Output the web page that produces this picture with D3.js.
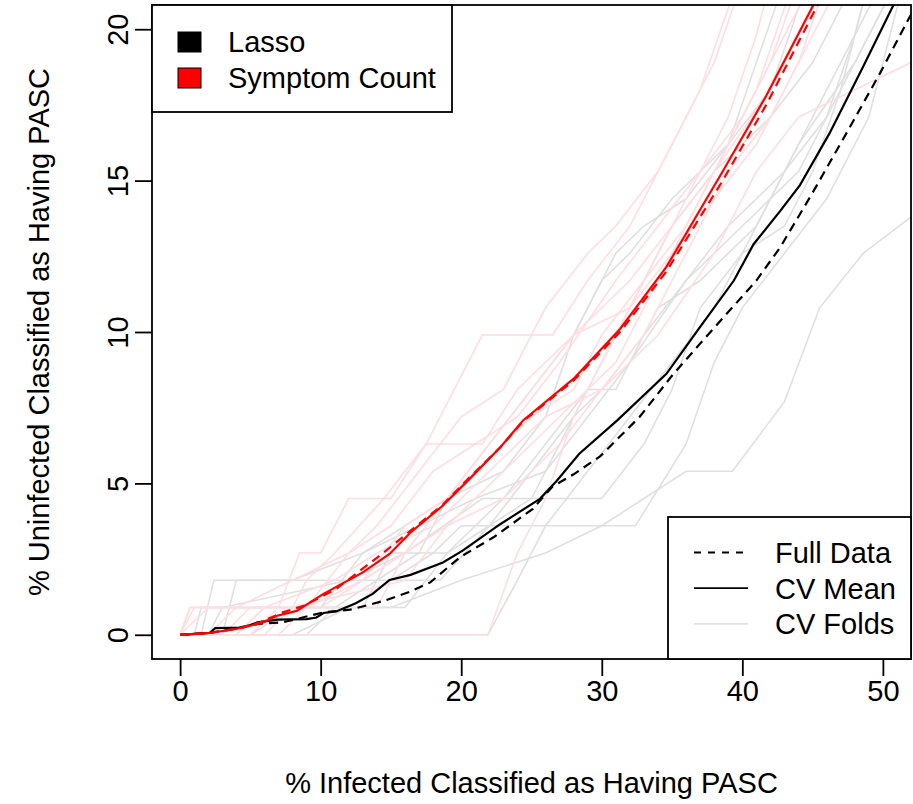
<!DOCTYPE html>
<html>
<head>
<meta charset="utf-8">
<script src="https://cdn.jsdelivr.net/npm/d3@7"></script>
<style>
    body { margin: 0; background: #fff; }
    text { font-family: "Liberation Sans", Arial, Helvetica, sans-serif; }
</style>
</head>
<body>
<div id="chart"></div>
<script>
// tick labels
const xTicks = [0, 10, 20, 30, 40, 50]
const yTicks = [0, 5, 10, 15, 20]

// Lasso, full data (dashed black)
const lassoFullX = [0, 2.1, 5.7, 7.3, 10.2, 12.1, 14.5, 16.4, 17.8, 19.9, 22.3, 25.1, 26.5, 28.0, 29.9, 32.7, 35.1, 37.0, 41.0, 42.7, 45.0, 47.4, 49.8, 51.9, 53]
const lassoFullY = [0, 0.06, 0.37, 0.41, 0.74, 0.83, 1.12, 1.43, 1.73, 2.56, 3.22, 4.16, 4.9, 5.3, 5.9, 7.2, 8.62, 9.62, 11.7, 12.8, 14.6, 16.56, 18.55, 20.4, 21.2]

// Lasso, CV mean (solid black)
const lassoMeanX = [0, 2.1, 2.5, 4.5, 5.5, 6.9, 9.0, 9.7, 10.2, 11.1, 12.5, 13.7, 14.9, 16.4, 18.7, 20.1, 22.8, 25.6, 26.8, 28.4, 31.1, 34.6, 37.0, 39.4, 40.8, 42.7, 44.1, 46.2, 48.6, 50.7, 52.5]
const lassoMeanY = [0, 0.06, 0.22, 0.24, 0.41, 0.5, 0.52, 0.57, 0.72, 0.77, 1.04, 1.35, 1.81, 1.98, 2.39, 2.78, 3.66, 4.49, 5.09, 5.98, 7.08, 8.62, 10.17, 11.7, 12.9, 14.0, 14.85, 16.56, 18.77, 20.75, 22]

// Symptom count, full data (dashed red)
const symFullX = [0, 2, 4, 5.7, 7.3, 8.8, 11.1, 14.5, 16.4, 18.7, 20.6, 22.8, 24.4, 28.0, 31.3, 34.6, 38.6, 41.7, 45.3, 46]
const symFullY = [0, 0.05, 0.2, 0.41, 0.74, 0.96, 1.51, 2.72, 3.44, 4.3, 5.2, 6.2, 7.05, 8.4, 10.0, 12.0, 15.0, 17.5, 20.75, 21.4]

// Symptom count, CV mean (solid red)
const symMeanX = [0, 2.1, 4.0, 5.0, 5.9, 6.9, 8.3, 10.2, 13.0, 14.9, 16.4, 18.7, 20.6, 22.8, 24.4, 28.0, 31.3, 34.6, 38.6, 41.7, 45.0, 46]
const symMeanY = [0, 0.06, 0.19, 0.30, 0.41, 0.63, 0.79, 1.35, 2.06, 2.67, 3.38, 4.27, 5.15, 6.2, 7.08, 8.46, 10.1, 12.15, 15.3, 17.8, 20.75, 21.5]

// CV folds, Lasso (grey)
const lassoFolds = [
    [[0,0],[0.7,0.9],[16,0.9],[19,2.7],[22,3.6],[25,4.5],[27,6.3],[29,8.1],[31,9.9],[33,11.7],[35,13.5],[38,15.3],[42,17.1],[45,18.9],[48,21.6]],
    [[0,0],[1.5,0],[2.4,1.8],[18.5,1.8],[22,3.6],[25,5.4],[28,7.2],[30,8.1],[33,9.9],[36,11.7],[40,13.5],[44,15.3],[47,18],[50,20.7],[51,21.6]],
    [[0,0],[21.9,0],[24,1.8],[26,3.6],[29,5.4],[32,7.2],[35,9],[38,10.8],[41,13.5],[44,16.2],[47,18.9],[50,21.6]],
    [[0,0],[5,0],[8,0.9],[15,0.9],[20,1.8],[26,2.7],[30,3.6],[33,4.5],[36,5.4],[39.3,5.4],[43,7.7],[45.5,10.8],[48.6,12.6],[52,13.8]],
    [[0,0],[1,0],[1.5,0.9],[10,0.9],[13,2.7],[16,3.6],[19,4.5],[23,5.4],[26,7.2],[28,9.9],[30,11.7],[32,12.6],[35,14.4],[39,16.2],[42,18],[44,20.7],[45,21.6]],
    [[0,0],[3,0],[4,1.8],[8,1.8],[13,2.7],[17,3.6],[21,4.5],[26,5.4],[29,7.2],[32,9],[36,11.7],[39,13.5],[43,15.3],[46,17.1],[48,19.8],[49,21.6]],
    [[0,0],[8,0],[12,0.9],[15,1.8],[18,2.7],[20,3.6],[32.4,3.6],[36,6.3],[38,9],[40,10.8],[43,12.6],[46,14.4],[49,17.1],[51,20.7],[52,21.6]],
    [[0,0],[2,0],[3,0.9],[12,1.8],[16,2.7],[21.5,4.5],[30,4.5],[33,6.3],[35,8.1],[37,10.8],[40,12.6],[43,13.5],[45,15.3],[47,18],[49,21.6]],
    [[0,0],[9,0],[11,0.9],[14,1.8],[17,2.7],[19,4.5],[22,6.3],[25,8.1],[28,9.9],[31,12.6],[33,13.5],[36,14.4],[39,16.2],[41,18.9],[43,21.6]],
    [[0,0],[4,0],[6,0.9],[13,0.9],[15,2.7],[19,2.7],[23,4.5],[26,6.3],[29,8.1],[31,8.1],[34,10.8],[37,11.7],[41,13.5],[44,16.2],[48,18.9],[51,21.6]]
]

// CV folds, symptom count (pink)
const symFolds = [
    [[0,0],[21.9,0],[24,2.7],[26,4.5],[28,7.2],[30,9],[33,11.7],[36,14.4],[39,17.1],[41,19.8],[42,21.6]],
    [[0,0],[0.7,0.9],[8,0.9],[9,1.8],[11,2.7],[14.5,4.5],[17.5,6.3],[19.5,8.1],[21.5,9.9],[26.5,9.9],[29,11.7],[32,13.5],[35,16.2],[38,18.9],[40,21.6]],
    [[0,0],[2,0.9],[7,0.9],[8.5,2.7],[10,2.7],[12,4.5],[15,4.5],[17.5,6.3],[21.5,6.3],[24,8.1],[28,9.9],[32,11.7],[35,13.5],[38,15.3],[41,18],[43,20.7],[44,21.6]],
    [[0,0],[5,0],[7,0.9],[14,0.9],[16,2.7],[19,4.5],[21,5.4],[25,7.2],[28,8.1],[30,9.9],[33,11.7],[36,13.5],[39,16.2],[42,18.9],[44,21.6]],
    [[0,0],[6,0],[8,0.9],[16,1.8],[19,3.6],[23,5.4],[27,7.2],[31,9],[35,12.6],[38,15.3],[42,18],[45,20.7],[46,21.6]],
    [[0,0],[1,0.9],[9,0.9],[12,2.7],[14,3.6],[17,5.4],[20,7.2],[23,8.1],[26,10.8],[29,12.6],[31,13.5],[34,15.3],[37,18],[39,20.7],[40,21.6]],
    [[0,0],[4,0],[6,0.9],[11,1.8],[14,2.7],[18,3.6],[22,5.4],[26,7.2],[30,8.1],[34,9.9],[38,12.6],[41,15.3],[44,17.1],[48,18],[52,18.9]],
    [[0,0],[3,0],[5,0.9],[10,0.9],[13,1.8],[16,3.6],[19,4.5],[22,6.3],[25,8.1],[28,9.9],[32,10.8],[35,12.6],[38,14.4],[41,16.2],[44,18.9],[46,21.6]],
    [[0,0],[2,0],[4,0.9],[12,2.7],[15,3.6],[18,5.4],[21,6.3],[24,7.2],[27,9],[31,11.7],[34,13.5],[37,15.3],[40,17.1],[43,19.8],[45,21.6]],
    [[0,0],[7,0],[9,0.9],[13,1.8],[16,2.7],[19,3.6],[23,4.5],[27,6.3],[30,8.1],[33,9.9],[36,12.6],[39,15.3],[42,17.1],[45,19.8],[47,21.6]]
]

const methodNames = ["Lasso", "Symptom Count"]
const methodColors = ["#000000", "#ff0000"]
const lineNames = ["Full Data", "CV Mean", "CV Folds"]

const width = 913
const height = 804
const pLeft = 152, pRight = 911, pTop = 5, pBottom = 659
const fs = 29

const svg = d3.select("#chart")
    .append("svg")
    .attr("width", width)
    .attr("height", height)

const x = d3.scaleLinear().domain([-2, 52]).range([pLeft, pRight])
const y = d3.scaleLinear().domain([-0.8, 20.8]).range([pBottom, pTop])

svg.append("clipPath")
    .attr("id", "plotclip")
    .append("rect")
        .attr("x", pLeft)
        .attr("y", pTop)
        .attr("width", pRight - pLeft)
        .attr("height", pBottom - pTop)

const line = d3.line()
    .x(d => x(d[0]))
    .y(d => y(d[1]))

const zip = (xs, ys) => xs.map((v, i) => [v, ys[i]])

const plot = svg.append("g").attr("clip-path", "url(#plotclip)")

plot.selectAll("path.lfold")
    .data(lassoFolds)
    .enter()
    .append("path")
        .attr("class", "lfold")
        .attr("d", line)
        .attr("fill", "none")
        .attr("stroke", "#e0e0e0")
        .attr("stroke-width", 1.6)

plot.selectAll("path.sfold")
    .data(symFolds)
    .enter()
    .append("path")
        .attr("class", "sfold")
        .attr("d", line)
        .attr("fill", "none")
        .attr("stroke", "#ffdde1")
        .attr("stroke-width", 1.6)

const mains = [
    { pts: zip(lassoFullX, lassoFullY), color: methodColors[0], dash: "9,6" },
    { pts: zip(lassoMeanX, lassoMeanY), color: methodColors[0], dash: null },
    { pts: zip(symFullX, symFullY), color: methodColors[1], dash: "9,6" },
    { pts: zip(symMeanX, symMeanY), color: methodColors[1], dash: null }
]

plot.selectAll("path.main")
    .data(mains)
    .enter()
    .append("path")
        .attr("class", "main")
        .attr("d", d => line(d.pts))
        .attr("fill", "none")
        .attr("stroke", d => d.color)
        .attr("stroke-width", 2.2)
        .attr("stroke-dasharray", d => d.dash)

// axes
const xAxis = svg.append("g")
    .attr("transform", `translate(0,${pBottom})`)
    .call(d3.axisBottom(x).tickValues(xTicks).tickSize(17).tickPadding(4))
xAxis.select(".domain").remove()
xAxis.selectAll("line").attr("stroke", "#000").attr("stroke-width", 1.8)
xAxis.selectAll("text").attr("font-size", fs).attr("fill", "#000")
    .style("font-family", "'Liberation Sans', Arial, sans-serif")

const yAxis = svg.append("g")
    .attr("transform", `translate(${pLeft},0)`)
    .call(d3.axisLeft(y).tickValues(yTicks).tickSize(17))
yAxis.select(".domain").remove()
yAxis.selectAll("line").attr("stroke", "#000").attr("stroke-width", 1.8)
yAxis.selectAll("text")
    .attr("font-size", fs)
    .attr("fill", "#000")
    .attr("transform", "rotate(-90)")
    .attr("text-anchor", "middle")
    .attr("x", 0)
    .attr("y", -24.5)
    .attr("dy", null)
    .style("font-family", "'Liberation Sans', Arial, sans-serif")

// box
svg.append("rect")
    .attr("x", pLeft)
    .attr("y", pTop)
    .attr("width", pRight - pLeft)
    .attr("height", pBottom - pTop)
    .attr("fill", "none")
    .attr("stroke", "#000")
    .attr("stroke-width", 1.8)

// axis titles
svg.append("text")
    .attr("x", (pLeft + pRight) / 2)
    .attr("y", 793)
    .attr("text-anchor", "middle")
    .attr("font-size", fs)
    .text("% Infected Classified as Having PASC")

svg.append("text")
    .attr("transform", `translate(49,${(pTop + pBottom) / 2}) rotate(-90)`)
    .attr("text-anchor", "middle")
    .attr("font-size", fs)
    .text("% Uninfected Classified as Having PASC")

// legend: methods
const leg1 = svg.append("g")
leg1.append("rect")
    .attr("x", pLeft).attr("y", pTop)
    .attr("width", 300).attr("height", 107)
    .attr("fill", "#fff").attr("stroke", "#000").attr("stroke-width", 1.8)
leg1.selectAll("rect.key")
    .data(methodNames)
    .enter()
    .append("rect")
        .attr("class", "key")
        .attr("x", 178)
        .attr("y", (d, i) => 32 + i * 36)
        .attr("width", 23)
        .attr("height", 20)
        .attr("fill", (d, i) => methodColors[i])
        .attr("stroke", "#000")
        .attr("stroke-width", 1)
leg1.selectAll("text")
    .data(methodNames)
    .enter()
    .append("text")
        .attr("x", 228)
        .attr("y", (d, i) => 52 + i * 36)
        .attr("font-size", fs)
        .text(d => d)

// legend: line types
const leg2 = svg.append("g")
leg2.append("rect")
    .attr("x", 668).attr("y", 517)
    .attr("width", pRight - 668).attr("height", pBottom - 517)
    .attr("fill", "#fff").attr("stroke", "#000").attr("stroke-width", 1.8)
const keyStyles = [
    { stroke: "#000", dash: "7,7" },
    { stroke: "#000", dash: null },
    { stroke: "#e0e0e0", dash: null }
]
leg2.selectAll("line")
    .data(lineNames)
    .enter()
    .append("line")
        .attr("x1", 694).attr("x2", 748)
        .attr("y1", (d, i) => 552.5 + i * 35.7)
        .attr("y2", (d, i) => 552.5 + i * 35.7)
        .attr("stroke", (d, i) => keyStyles[i].stroke)
        .attr("stroke-width", 1.8)
        .attr("stroke-dasharray", (d, i) => keyStyles[i].dash)
leg2.selectAll("text")
    .data(lineNames)
    .enter()
    .append("text")
        .attr("x", 775)
        .attr("y", (d, i) => 563 + i * 35.7)
        .attr("font-size", fs)
        .text(d => d)
</script>
</body>
</html>
